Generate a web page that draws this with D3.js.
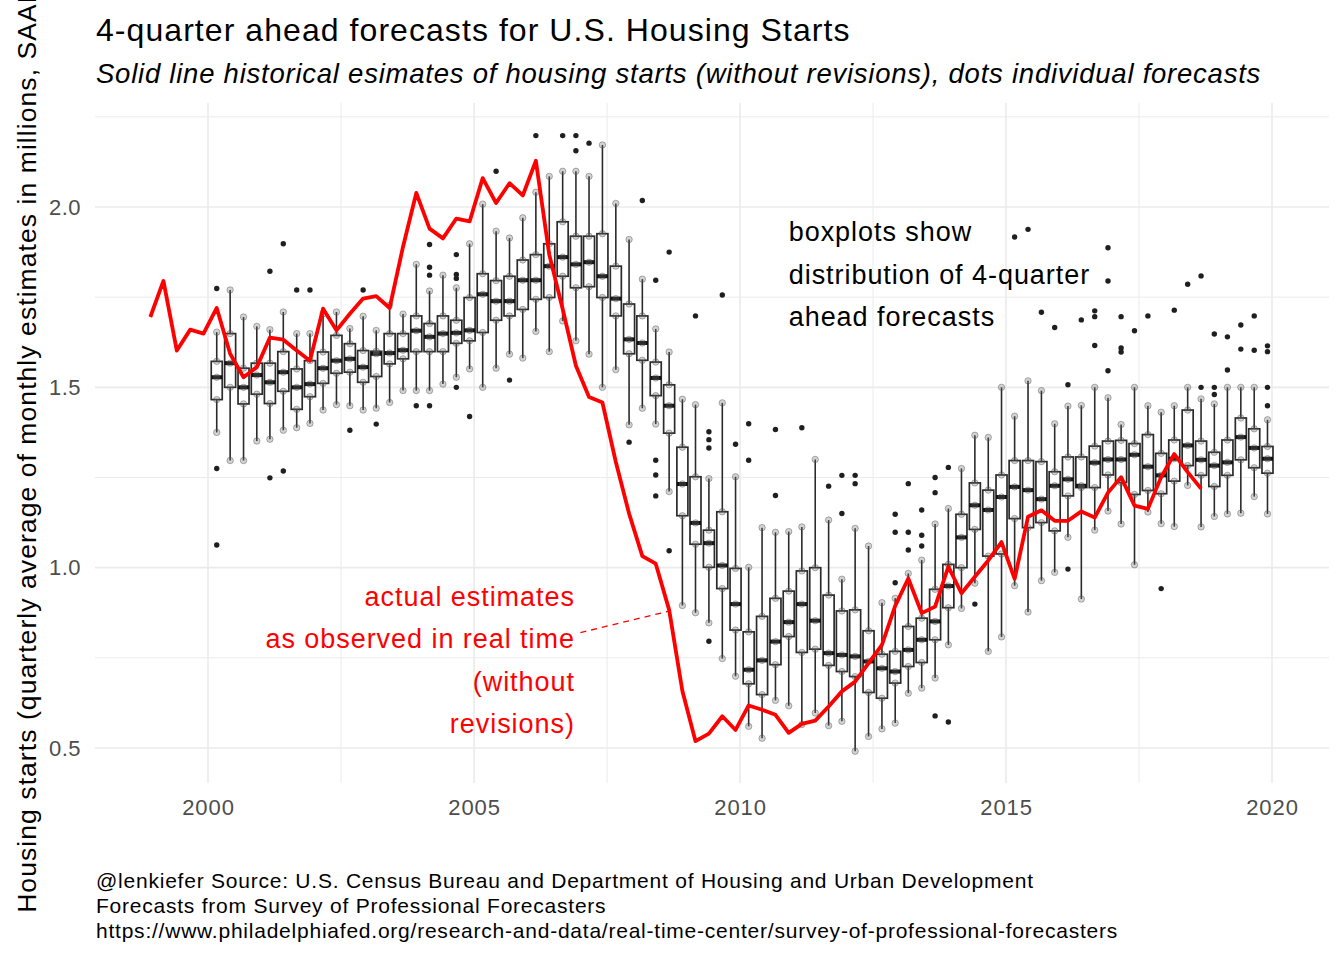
<!DOCTYPE html>
<html>
<head>
<meta charset="utf-8">
<script src="https://cdn.jsdelivr.net/npm/d3@7"></script>
<style>
  body { margin: 0; background: #fff; }
  svg { display: block; }
  text { font-family: "Liberation Sans", Arial, sans-serif; }
</style>
</head>
<body>
<svg id="chart"></svg>
<script>
// Forecast target quarters start here (one boxplot per quarter)
const firstBoxQuarter = new Date(2000, 2, 1);
// Real-time actual estimates start here (one point per quarter)
const firstActualQuarter = new Date(1998, 11, 1);

// 5-number summaries of the 4-quarter-ahead forecasts, millions SAAR
const boxLo = [1.375,1.297,1.297,1.351,1.356,1.381,1.388,1.400,1.437,1.452,1.449,1.437,1.442,1.458,1.491,1.491,1.491,1.509,1.528,1.551,
  1.500,1.553,1.592,1.581,1.655,1.599,1.684,1.629,1.592,1.500,1.549,1.396,1.442,1.398,1.211,0.895,0.875,0.847,0.748,0.699,
  0.560,0.527,0.632,0.617,0.565,0.597,0.562,0.574,0.491,0.532,0.553,0.569,0.652,0.666,0.694,0.786,0.887,0.957,0.768,0.808,
  0.950,0.877,0.964,0.987,1.084,0.913,1.104,1.157,1.121,1.008,1.154,1.122,1.114,1.228,1.113,1.142,1.149,1.151,1.197,1.149];
const boxQ1 = [1.466,1.500,1.454,1.481,1.455,1.489,1.439,1.474,1.511,1.539,1.542,1.514,1.530,1.565,1.579,1.599,1.599,1.599,1.622,1.629,
  1.652,1.686,1.698,1.716,1.744,1.749,1.808,1.776,1.779,1.749,1.698,1.593,1.575,1.477,1.373,1.144,1.065,1.001,0.942,0.827,
  0.678,0.648,0.731,0.809,0.765,0.774,0.729,0.712,0.698,0.654,0.638,0.680,0.726,0.737,0.800,0.889,1.000,1.106,1.032,1.038,
  1.136,1.111,1.125,1.102,1.199,1.222,1.222,1.257,1.236,1.203,1.214,1.205,1.240,1.283,1.256,1.225,1.256,1.299,1.277,1.262];
const boxMed = [1.528,1.567,1.500,1.534,1.514,1.542,1.500,1.509,1.553,1.574,1.579,1.556,1.593,1.595,1.603,1.657,1.640,1.649,1.651,1.658,
  1.758,1.739,1.739,1.797,1.797,1.836,1.861,1.841,1.847,1.808,1.746,1.633,1.623,1.526,1.449,1.232,1.124,1.068,1.006,0.899,
  0.717,0.743,0.795,0.849,0.899,0.853,0.763,0.758,0.754,0.740,0.721,0.712,0.772,0.800,0.851,0.949,1.084,1.173,1.160,1.196,
  1.224,1.215,1.190,1.227,1.245,1.227,1.291,1.300,1.300,1.313,1.280,1.256,1.302,1.339,1.299,1.283,1.292,1.362,1.332,1.302];
const boxQ3 = [1.572,1.649,1.553,1.567,1.567,1.599,1.551,1.574,1.598,1.644,1.621,1.602,1.600,1.649,1.649,1.698,1.677,1.698,1.686,1.749,
  1.815,1.796,1.808,1.853,1.868,1.898,1.959,1.919,1.919,1.926,1.836,1.731,1.698,1.570,1.507,1.334,1.252,1.104,1.155,0.998,
  0.822,0.865,0.915,0.935,0.991,1.000,0.924,0.880,0.883,0.825,0.760,0.768,0.837,0.860,0.940,1.009,1.148,1.235,1.215,1.257,
  1.297,1.297,1.294,1.266,1.307,1.307,1.337,1.351,1.353,1.344,1.369,1.317,1.354,1.437,1.351,1.320,1.354,1.415,1.385,1.336];
const boxHi = [1.653,1.770,1.695,1.669,1.660,1.709,1.649,1.649,1.704,1.709,1.663,1.697,1.658,1.728,1.703,1.841,1.767,1.811,1.776,1.898,
  2.008,1.933,1.914,1.970,2.041,2.085,2.099,2.099,2.085,2.172,2.010,1.910,1.800,1.662,1.598,1.467,1.452,1.247,1.457,1.252,
  1.001,1.111,1.098,1.100,1.113,1.300,1.132,0.968,1.109,1.060,0.903,0.915,0.984,1.021,1.121,1.164,1.275,1.367,1.361,1.500,
  1.420,1.518,1.491,1.399,1.448,1.450,1.500,1.471,1.397,1.500,1.449,1.431,1.449,1.500,1.468,1.454,1.500,1.500,1.500,1.410];

// Outlying forecasts: [quarter index, value]
const outliers = [
  [0,1.774],[0,1.275],[0,1.063],[4,1.822],[4,1.249],[5,1.898],[5,1.268],[6,1.770],[7,1.770],[10,1.381],[11,1.770],[12,1.398],
  [15,1.449],[16,1.896],[16,1.833],[16,1.811],[16,1.449],[18,1.868],[18,1.813],[18,1.802],[18,1.500],[19,1.419],[21,2.099],[22,1.520],
  [24,2.198],[26,2.198],[27,2.198],[27,2.156],[28,2.177],[31,1.348],[32,2.018],[33,1.797],[33,1.298],[33,1.257],[33,1.199],
  [34,1.875],[34,1.047],[36,1.698],[37,1.377],[37,1.355],[37,1.332],[37,0.796],[38,1.756],[39,1.342],[40,1.399],[40,1.298],
  [42,1.383],[42,1.200],[44,1.388],[46,1.226],[47,1.256],[47,1.150],[48,1.256],[48,1.233],[51,1.148],[51,1.098],[51,0.958],
  [52,1.233],[52,1.098],[52,1.049],[53,1.160],[53,1.090],[53,1.060],[54,1.250],[54,1.208],[54,0.589],[55,1.278],[55,0.572],
  [57,0.899],[60,1.917],[61,1.938],[62,1.708],[63,1.666],[64,1.507],[64,0.996],[65,1.687],[66,1.712],[66,1.696],[66,1.616],
  [67,1.887],[67,1.795],[67,1.546],[68,1.696],[68,1.609],[68,1.598],[69,1.657],[70,1.698],[71,0.942],[72,1.714],[73,1.786],
  [74,1.809],[74,1.500],[75,1.648],[75,1.500],[75,1.480],[76,1.640],[76,1.548],[77,1.673],[77,1.606],[78,1.698],[78,1.603],
  [79,1.615],[79,1.599],[79,1.500],[79,1.449]
];

// Housing starts as first reported, quarterly avg, millions SAAR
const actualValues = [1.695,1.795,1.602,1.660,1.649,
  1.720,1.593,1.528,1.556,1.638,1.632,1.602,1.574,1.718,1.658,1.704,1.746,1.753,1.720,1.890,2.039,1.940,1.913,1.968,1.960,
  2.080,2.011,2.066,2.032,2.128,1.868,1.717,1.560,1.473,1.458,1.293,1.150,1.032,1.011,0.883,0.658,0.519,0.540,0.588,0.550,
  0.618,0.606,0.592,0.542,0.567,0.576,0.615,0.657,0.684,0.735,0.786,0.894,0.970,0.874,0.892,1.003,0.929,0.975,1.020,1.071,
  0.969,1.141,1.159,1.130,1.130,1.156,1.139,1.208,1.251,1.172,1.163,1.251,1.315,1.265,1.219];

const xTickYears = [2000, 2005, 2010, 2015, 2020];
const yTicks = [0.5, 1.0, 1.5, 2.0];
const yMinor = [0.75, 1.25, 1.75, 2.25];

const titleText = "4-quarter ahead forecasts for U.S. Housing Starts";
const subtitleText = "Solid line historical esimates of housing starts (without revisions), dots individual forecasts";
const yLabelText = "Housing starts (quarterly average of monthly estimates in millions, SAAR)";
const captionLines = [
  "@lenkiefer Source: U.S. Census Bureau and Department of Housing and Urban Development",
  "Forecasts from Survey of Professional Forecasters",
  "https://www.philadelphiafed.org/research-and-data/real-time-center/survey-of-professional-forecasters"
];
const boxNote = ["boxplots show", "distribution of 4-quarter", "ahead forecasts"];
const lineNote = ["actual estimates", "as observed in real time", "(without", "revisions)"];

// Build tables
const boxes = boxLo.map((lo, i) => ({
  date: d3.timeMonth.offset(firstBoxQuarter, 3 * i),
  lo: lo, q1: boxQ1[i], med: boxMed[i], q3: boxQ3[i], hi: boxHi[i]
}));
const actual = actualValues.map((v, i) => ({ date: d3.timeMonth.offset(firstActualQuarter, 3 * i), value: v }));

// Layout
const width = 1344, height = 960;
const panel = { left: 95, right: 1329, top: 103, bottom: 783 };

const svg = d3.select("#chart").attr("width", width).attr("height", height);

const x = d3.scaleTime()
  .domain([new Date(2000, 0, 1), new Date(2020, 0, 1)])
  .range([208, 1272]);
const y = d3.scaleLinear()
  .domain([0.5, 2.0])
  .range([748, 207]);

// Grid
const grid = svg.append("g").attr("stroke", "#ebebeb").attr("fill", "none");
grid.selectAll(".ymin").data(yMinor).enter().append("line")
  .attr("x1", panel.left).attr("x2", panel.right)
  .attr("y1", d => y(d)).attr("y2", d => y(d)).attr("stroke-width", 1);
grid.selectAll(".ymaj").data(yTicks).enter().append("line")
  .attr("x1", panel.left).attr("x2", panel.right)
  .attr("y1", d => y(d)).attr("y2", d => y(d)).attr("stroke-width", 1.6);
const xMinor = d3.pairs(xTickYears).map(p => (x(new Date(p[0], 0, 1)) + x(new Date(p[1], 0, 1))) / 2);
grid.selectAll(".xmin").data(xMinor).enter().append("line")
  .attr("x1", d => d).attr("x2", d => d)
  .attr("y1", panel.top).attr("y2", panel.bottom).attr("stroke-width", 1);
grid.selectAll(".xmaj").data(xTickYears).enter().append("line")
  .attr("x1", d => x(new Date(d, 0, 1))).attr("x2", d => x(new Date(d, 0, 1)))
  .attr("y1", panel.top).attr("y2", panel.bottom).attr("stroke-width", 1.6);

// Axis tick labels (no lines, theme_minimal look)
const xAxis = svg.append("g")
  .attr("transform", `translate(0,${panel.bottom})`)
  .call(d3.axisBottom(x).tickValues(xTickYears.map(yr => new Date(yr, 0, 1))).tickFormat(d3.timeFormat("%Y")).tickSize(0).tickPadding(16));
xAxis.select(".domain").remove();
xAxis.selectAll("text").attr("font-size", 22).attr("letter-spacing", 0.9).attr("fill", "#4d4d4d")
  .attr("font-family", "Liberation Sans, Arial, sans-serif");

const yAxis = svg.append("g")
  .attr("transform", `translate(${panel.left},0)`)
  .call(d3.axisLeft(y).tickValues(yTicks).tickFormat(d3.format(".1f")).tickSize(0).tickPadding(14));
yAxis.select(".domain").remove();
yAxis.selectAll("text").attr("font-size", 22).attr("letter-spacing", 0.5).attr("fill", "#4d4d4d")
  .attr("font-family", "Liberation Sans, Arial, sans-serif");

// Boxplots
const boxW = 11;
const bx = svg.append("g");
const bg = bx.selectAll(".box").data(boxes).enter().append("g")
  .attr("transform", d => `translate(${x(d.date)},0)`);
bg.append("line")
  .attr("y1", d => y(d.hi)).attr("y2", d => y(d.q3))
  .attr("stroke", "#2b2b2b").attr("stroke-width", 1.6);
bg.append("line")
  .attr("y1", d => y(d.q1)).attr("y2", d => y(d.lo))
  .attr("stroke", "#2b2b2b").attr("stroke-width", 1.6);
bg.append("rect")
  .attr("x", -boxW / 2).attr("width", boxW)
  .attr("y", d => y(d.q3)).attr("height", d => y(d.q1) - y(d.q3))
  .attr("fill", "#fff").attr("stroke", "#2b2b2b").attr("stroke-width", 1.7);
bg.append("line")
  .attr("x1", -boxW / 2).attr("x2", boxW / 2)
  .attr("y1", d => y(d.med)).attr("y2", d => y(d.med))
  .attr("stroke", "#111").attr("stroke-width", 4);

// Individual forecasts at the summary values (translucent)
const pts = [];
boxes.forEach(d => ["lo", "q1", "med", "q3", "hi"].forEach(k => pts.push({ date: d.date, value: d[k] })));
svg.append("g").selectAll("circle").data(pts).enter().append("circle")
  .attr("cx", d => x(d.date)).attr("cy", d => y(d.value)).attr("r", 3.2)
  .attr("fill", "rgba(110,110,110,0.3)").attr("stroke", "rgba(70,70,70,0.4)").attr("stroke-width", 1);

// Outliers
svg.append("g").selectAll("circle").data(outliers).enter().append("circle")
  .attr("cx", d => x(boxes[d[0]].date)).attr("cy", d => y(d[1])).attr("r", 2.7)
  .attr("fill", "#1f1f1f");

// Real-time actuals
const line = d3.line().x(d => x(d.date)).y(d => y(d.value));
svg.append("path").datum(actual)
  .attr("fill", "none").attr("stroke", "#ff0000").attr("stroke-width", 3.8)
  .attr("stroke-linejoin", "round").attr("d", line);

// Annotations
const noteSize = 27, noteLead = 42.5, noteSpacing = 0.95;
svg.append("text")
  .attr("x", x(new Date(2010, 11, 1))).attr("y", y(1.93) + 9)
  .attr("font-size", noteSize).attr("letter-spacing", noteSpacing).attr("fill", "#000")
  .selectAll("tspan").data(boxNote).enter().append("tspan")
  .attr("x", x(new Date(2010, 11, 1))).attr("dy", (d, i) => i ? noteLead : 0).text(d => d);

svg.append("text")
  .attr("x", x(new Date(2006, 10, 24))).attr("y", y(0.92) + 9)
  .attr("font-size", noteSize).attr("letter-spacing", noteSpacing).attr("fill", "#ff0000").attr("text-anchor", "end")
  .selectAll("tspan").data(lineNote).enter().append("tspan")
  .attr("x", x(new Date(2006, 10, 24))).attr("dy", (d, i) => i ? noteLead : 0).text(d => d);

svg.append("line")
  .attr("x1", x(new Date(2007, 0, 1))).attr("y1", y(0.82))
  .attr("x2", x(new Date(2008, 8, 5))).attr("y2", y(0.88))
  .attr("stroke", "#ff0000").attr("stroke-width", 1.3).attr("stroke-dasharray", "6,5");

// Titles
svg.append("text").attr("x", 96).attr("y", 41).attr("font-size", 32).attr("letter-spacing", 1.06)
  .attr("fill", "#000").text(titleText);
svg.append("text").attr("x", 96).attr("y", 83).attr("font-size", 27.5).attr("letter-spacing", 0.76)
  .attr("font-style", "italic").attr("fill", "#000").text(subtitleText);

svg.append("text")
  .attr("transform", "rotate(-90)")
  .attr("x", -(panel.top + panel.bottom) / 2).attr("y", 36)
  .attr("text-anchor", "middle").attr("font-size", 26.5).attr("letter-spacing", 1.07).attr("fill", "#000")
  .text(yLabelText);

svg.append("g").selectAll("text").data(captionLines).enter().append("text")
  .attr("x", 96).attr("y", (d, i) => 888 + i * 25.2)
  .attr("font-size", 21).attr("letter-spacing", 0.77).attr("fill", "#000").text(d => d);
</script>
</body>
</html>
